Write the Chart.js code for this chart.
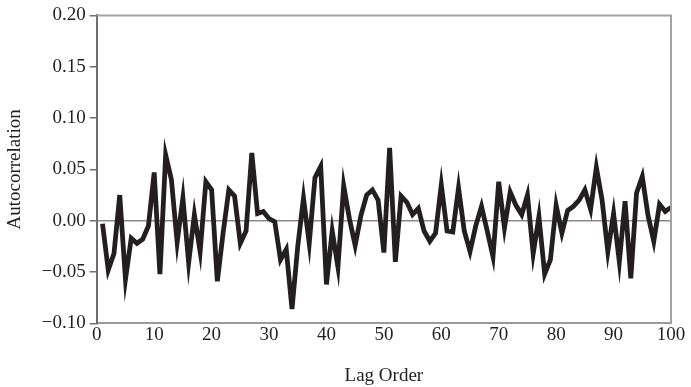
<!DOCTYPE html>
<html>
<head>
<meta charset="utf-8">
<script src="https://cdn.jsdelivr.net/npm/chart.js@4/dist/chart.umd.min.js"></script>
<style>
  html, body { margin: 0; padding: 0; background: #ffffff; }
  #wrap { width: 691px; height: 387px; position: relative; }
</style>
</head>
<body>
<div id="wrap"><canvas id="acf"></canvas></div>
<script>
// Sample autocorrelation by lag order
const lags = [];
for (let k = 1; k <= 100; k++) lags.push(k);

const autocorr = [
  -0.003, -0.048, -0.032, 0.025, -0.057, -0.017, -0.022, -0.018, -0.005, 0.047,
  -0.052, 0.064, 0.040, -0.021, 0.022, -0.041, 0.006, -0.030, 0.038, 0.030,
  -0.059, -0.012, 0.030, 0.024, -0.022, -0.010, 0.066, 0.007, 0.009, 0.002,
  -0.001, -0.038, -0.028, -0.086, -0.025, 0.022, -0.022, 0.042, 0.053, -0.062,
  -0.010, -0.045, 0.034, 0.002, -0.024, 0.005, 0.025, 0.030, 0.020, -0.031,
  0.071, -0.040, 0.024, 0.018, 0.006, 0.012, -0.010, -0.020, -0.012, 0.035,
  -0.010, -0.011, 0.032, -0.010, -0.030, -0.005, 0.014, -0.010, -0.035, 0.038,
  -0.007, 0.028, 0.015, 0.006, 0.025, -0.032, 0.004, -0.052, -0.038, 0.015,
  -0.012, 0.010, 0.014, 0.020, 0.030, 0.011, 0.052, 0.020, -0.030, 0.007,
  -0.040, 0.019, -0.056, 0.027, 0.043, 0.005, -0.020, 0.016, 0.009, 0.013
];

const xTicks = [0, 10, 20, 30, 40, 50, 60, 70, 80, 90, 100];
const yTicks = [-0.10, -0.05, 0.00, 0.05, 0.10, 0.15, 0.20];

const points = lags.map((lag, i) => ({ x: lag, y: autocorr[i] }));

// top and right edges of the plot frame
const frame = {
  id: 'frame',
  afterDraw(chart) {
    const { ctx, chartArea: a } = chart;
    ctx.save();
    ctx.strokeStyle = '#a3a3a3';
    ctx.lineWidth = 2;
    ctx.beginPath();
    ctx.moveTo(a.left, a.top);
    ctx.lineTo(a.right, a.top);
    ctx.lineTo(a.right, a.bottom);
    ctx.stroke();
    ctx.restore();
  }
};

const fmt = v => {
  const s = Math.abs(v).toFixed(2);
  return v < -1e-9 ? '\u2212' + s : s;
};

const serif = 'Liberation Serif';

new Chart(document.getElementById('acf'), {
  type: 'line',
  data: {
    datasets: [{
      data: points,
      borderColor: '#231f20',
      borderWidth: 4.8,
      borderJoinStyle: 'miter',
      pointRadius: 0,
      tension: 0,
      fill: false
    }]
  },
  options: {
    responsive: true,
    maintainAspectRatio: false,
    animation: false,
    layout: { padding: { top: 2, right: 20, bottom: 0, left: 4 } },
    plugins: { legend: { display: false }, tooltip: { enabled: false } },
    scales: {
      x: {
        type: 'linear',
        min: 0,
        max: 100,
        afterBuildTicks: s => { s.ticks = xTicks.map(v => ({ value: v })); },
        ticks: {
          color: '#231f20',
          font: { family: serif, size: 19 },
          padding: 0,
          maxRotation: 0,
          callback: v => String(v)
        },
        grid: { display: false, drawTicks: false },
        border: { display: true, color: '#9a9a9a', width: 2 },
        title: {
          display: true,
          text: 'Lag Order',
          color: '#231f20',
          font: { family: serif, size: 19 },
          padding: { top: 18, bottom: 0 }
        }
      },
      y: {
        min: -0.10,
        max: 0.20,
        afterBuildTicks: s => { s.ticks = yTicks.map(v => ({ value: v })); },
        ticks: {
          color: '#231f20',
          font: { family: serif, size: 19 },
          padding: 4,
          callback: v => fmt(v)
        },
        grid: {
          drawOnChartArea: true,
          color: c => (c.tick && Math.abs(c.tick.value) < 1e-9) ? '#8a8a8a' : 'rgba(0,0,0,0)',
          lineWidth: 1.5,
          tickColor: '#6e6e6e',
          tickLength: 7,
          tickWidth: 1.5
        },
        border: { display: true, color: '#6e6e6e', width: 2 },
        title: {
          display: true,
          text: 'Autocorrelation',
          color: '#231f20',
          font: { family: serif, size: 19 },
          padding: { top: 0, bottom: 11 }
        }
      }
    }
  },
  plugins: [frame]
});
</script>
</body>
</html>
